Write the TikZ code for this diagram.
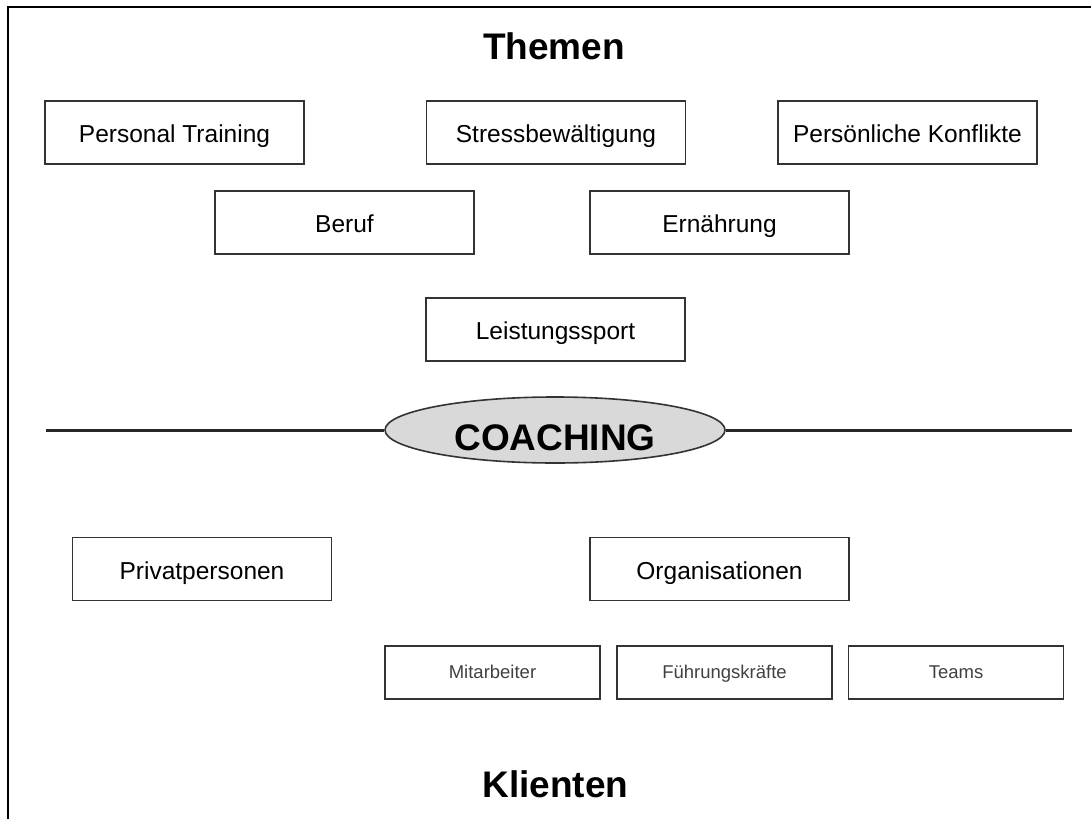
\documentclass[tikz,border=0pt]{standalone}
\usepackage{fontspec}
\setmainfont{Liberation Sans}
\usetikzlibrary{shapes.geometric}
\definecolor{rimgray}{HTML}{333333}
\definecolor{ovalgray}{HTML}{D9D9D9}
\begin{document}
\begin{tikzpicture}[x=1pt,y=-1pt,
	topic/.style={rectangle, draw=rimgray, line width=1.8pt, minimum width=259pt, minimum height=63pt, inner sep=0pt, text height=20pt, text depth=0pt, font=\fontsize{24.5}{28}\selectfont},
	sub/.style={rectangle, draw=rimgray, line width=1.8pt, minimum width=215pt, minimum height=53pt, inner sep=0pt, text height=12pt, text depth=0pt, text=black!75, font=\fontsize{18.5}{22}\selectfont},
	heading/.style={font=\fontsize{37}{42}\selectfont\bfseries, inner sep=0pt}]
	\useasboundingbox (0,0) rectangle (1091,819);
	\draw[line width=2.8pt] (8,819) -- (8,7) -- (1091,7);
	\node (themen) at (554, 46)	[heading]	{Themen};
	\node (PT) at (174.5, 132.5)	[topic]	{Personal Training};
	\node (SB) at (556, 132.5)	[topic]	{Stressbewältigung};
	\node (PK) at (907.5, 132.5)	[topic]	{Persönliche Konflikte};
	\node (BE) at (344.5, 222.5)	[topic]	{Beruf};
	\node (EN) at (719.5, 222.5)	[topic]	{Ernährung};
	\node (LS) at (555.5, 329.5)	[topic]	{Leistungssport};
	\node (coach) at (555, 430)	[ellipse, draw=rimgray, line width=1.6pt, fill=ovalgray, minimum width=340pt, minimum height=66pt, inner sep=0pt, text height=40pt, text depth=0pt, font=\fontsize{37}{42}\selectfont\bfseries]	{COACHING};
	\coordinate (lineL) at (46, 430);
	\coordinate (lineR) at (1072, 430);
	\draw[line width=3pt, black!85] (lineL) -- (coach);
	\draw[line width=3pt, black!85] (coach) -- (lineR);
	\node (PP) at (202, 569)	[topic]	{Privatpersonen};
	\node (OR) at (719.5, 569)	[topic]	{Organisationen};
	\node (MA) at (492.5, 672.5)	[sub]	{Mitarbeiter};
	\node (FK) at (724.5, 672.5)	[sub]	{Führungskräfte};
	\node (TE) at (956, 672.5)	[sub]	{Teams};
	\node (klienten) at (555.5, 784)	[heading]	{Klienten};
\end{tikzpicture}
\end{document}
